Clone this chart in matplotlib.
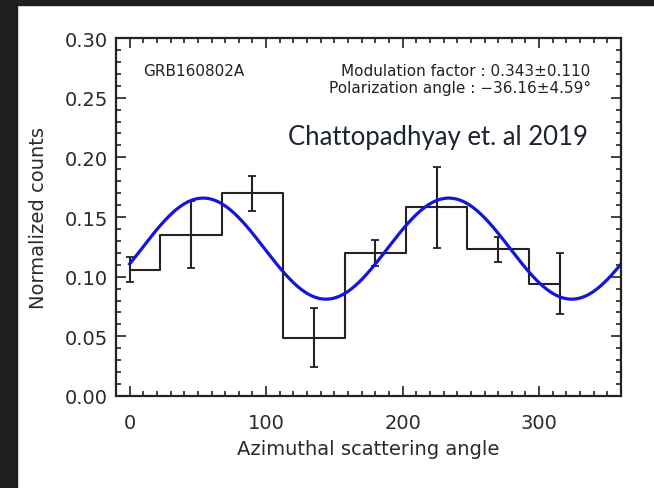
import matplotlib
matplotlib.use("Agg")
import matplotlib.pyplot as plt
import numpy as np
from matplotlib.patches import Rectangle
from matplotlib.ticker import MultipleLocator

# Binned azimuthal scattering angles and normalized counts
angles = [0, 45, 90, 135, 180, 225, 270, 315]
counts = [0.106, 0.135, 0.170, 0.049, 0.120, 0.158, 0.123, 0.094]
errors = [0.0103, 0.028, 0.0146, 0.0245, 0.011, 0.0343, 0.0105, 0.0257]

# Fit parameters (mean level)
mod_factor = 0.343
pol_angle = -36.16
mean_level = 0.1235

W, H = 654, 489
fig = plt.figure(figsize=(W / 100, H / 100), dpi=100)
fig.patch.set_facecolor("white")

# dark frame on the left and top edges
dark = "#1f1f1f"
fig.patches.append(Rectangle((0, 0), 17 / W, 1, transform=fig.transFigure, color=dark, zorder=0))
fig.patches.append(Rectangle((0, 1 - 6 / H), 1, 6 / H, transform=fig.transFigure, color=dark, zorder=0))

left, right, top, bottom = 116, 621, 39, 397
ax = fig.add_axes([left / W, 1 - bottom / H, (right - left) / W, (bottom - top) / H])

ink = "#222222"

# histogram in IDL psym=10 style and error bars
ax.step(angles, counts, where="mid", color=ink, lw=1.5)
ax.errorbar(angles, counts, yerr=errors, fmt="none", ecolor=ink, elinewidth=1.5, capsize=3, capthick=1.3)

# modulation curve
phi = np.linspace(0, 360, 721)
model = mean_level * (1 + mod_factor * np.cos(np.radians(2 * (phi - (pol_angle + 90)))))
ax.plot(phi, model, color="#1414dc", lw=2.3)

ax.set_xlim(-10, 360)
ax.set_ylim(0, 0.30)
ax.xaxis.set_major_locator(MultipleLocator(100))
ax.xaxis.set_minor_locator(MultipleLocator(10))
ax.yaxis.set_major_locator(MultipleLocator(0.05))
ax.yaxis.set_minor_locator(MultipleLocator(0.01))
ax.yaxis.set_major_formatter(plt.FuncFormatter(lambda v, p: f"{v:.2f}"))

ax.tick_params(which="both", direction="in", top=True, right=True, color=ink, width=1.2)
ax.tick_params(which="major", length=7, labelsize=14, labelcolor="#2a2a2a")
ax.tick_params(axis="x", which="major", pad=12)
ax.tick_params(axis="y", which="major", pad=6)
ax.tick_params(which="minor", length=3.5)
for s in ax.spines.values():
    s.set_linewidth(1.6)
    s.set_color(ink)

ax.set_xlabel("Azimuthal scattering angle", fontsize=14, color="#2a2a2a", labelpad=5)
ax.set_ylabel("Normalized counts", fontsize=14, color="#2a2a2a", labelpad=12)

txt = dict(transform=ax.transAxes, fontsize=11, color=ink, va="center")
ax.text(0.053, 0.91, "GRB160802A", **txt)
ax.text(0.94, 0.91, "Modulation factor : 0.343\u00b10.110", ha="right", **txt)
ax.text(0.94, 0.862, "Polarization angle : \u221236.16\u00b14.59\u00b0", ha="right", **txt)

fig.text(588 / W, 1 - 138 / H, "Chattopadhyay et. al 2019", fontfamily="Lato",
         fontsize=18.5, color="#1c2430", ha="right", va="center")

fig.savefig("out.png", dpi=100)
